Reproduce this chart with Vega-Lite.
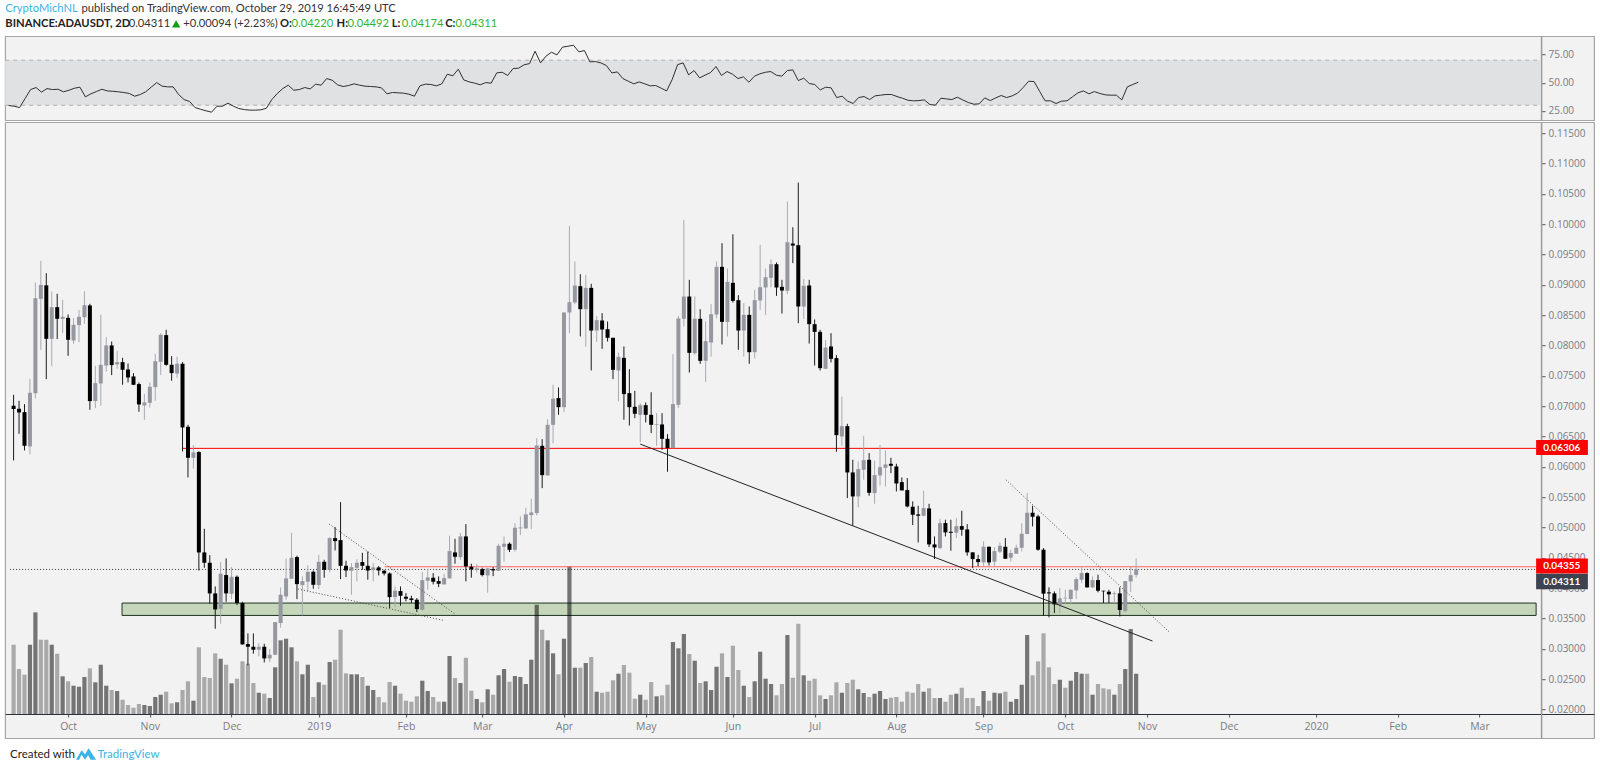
{
"$schema":"https://vega.github.io/schema/vega-lite/v6.json",
"background":"#ffffff",
"padding":{"left":3.1,"top":2.2,"right":0,"bottom":0},
"spacing":0,
"config":{"view":{"fill":"#f2f2f2","stroke":"#a6a6a6","strokeWidth":1.2},"font":"Lato","axis":{"labelFont":"Open Sans","labelColor":"#787b86","grid":false,"title":null}},
"datasets":{
"bars":[
{"bar":0,"dir":"down","open":0.07008,"high":0.07189,"low":0.06107,"close":0.06953,"vol":69.3,"vdir":"up","rsi":29.7},
{"bar":1,"dir":"down","open":0.06958,"high":0.0709,"low":0.06546,"close":0.06898,"vol":45,"vdir":"up","rsi":29.1},
{"bar":2,"dir":"down","open":0.06903,"high":0.07035,"low":0.06272,"close":0.06349,"vol":39.3,"vdir":"up","rsi":27.9},
{"bar":3,"dir":"up","open":0.06338,"high":0.07452,"low":0.06206,"close":0.07222,"vol":69.3,"vdir":"down","rsi":35.9},
{"bar":4,"dir":"up","open":0.07216,"high":0.09039,"low":0.07129,"close":0.08781,"vol":101.7,"vdir":"down","rsi":43.9},
{"bar":5,"dir":"up","open":0.0877,"high":0.09396,"low":0.0793,"close":0.08999,"vol":74.3,"vdir":"up","rsi":45.7},
{"bar":6,"dir":"down","open":0.08992,"high":0.09193,"low":0.07447,"close":0.08111,"vol":74.3,"vdir":"up","rsi":41.6},
{"bar":7,"dir":"up","open":0.08111,"high":0.08891,"low":0.07661,"close":0.08633,"vol":69.3,"vdir":"down","rsi":44.8},
{"bar":8,"dir":"down","open":0.08633,"high":0.08853,"low":0.08106,"close":0.08441,"vol":60.3,"vdir":"up","rsi":43.9},
{"bar":9,"dir":"up","open":0.08441,"high":0.08754,"low":0.08205,"close":0.08474,"vol":37.7,"vdir":"down","rsi":44.2},
{"bar":10,"dir":"down","open":0.08457,"high":0.08512,"low":0.07831,"close":0.08095,"vol":32.7,"vdir":"up","rsi":41.9},
{"bar":11,"dir":"up","open":0.08084,"high":0.08452,"low":0.08029,"close":0.08342,"vol":28.3,"vdir":"down","rsi":43.3},
{"bar":12,"dir":"up","open":0.08337,"high":0.08589,"low":0.08057,"close":0.08474,"vol":27.3,"vdir":"down","rsi":45.1},
{"bar":13,"dir":"up","open":0.08468,"high":0.08897,"low":0.08359,"close":0.08666,"vol":37,"vdir":"down","rsi":46},
{"bar":14,"dir":"down","open":0.08661,"high":0.08688,"low":0.06942,"close":0.07085,"vol":45.7,"vdir":"up","rsi":37.4},
{"bar":15,"dir":"up","open":0.07085,"high":0.07667,"low":0.06969,"close":0.07381,"vol":31.7,"vdir":"down","rsi":40.1},
{"bar":16,"dir":"up","open":0.07376,"high":0.08507,"low":0.07008,"close":0.07683,"vol":49.3,"vdir":"down","rsi":42.1},
{"bar":17,"dir":"up","open":0.07672,"high":0.08139,"low":0.07573,"close":0.08002,"vol":28.3,"vdir":"down","rsi":44.2},
{"bar":18,"dir":"down","open":0.08002,"high":0.08067,"low":0.07513,"close":0.07678,"vol":24,"vdir":"up","rsi":42.7},
{"bar":19,"dir":"up","open":0.07689,"high":0.07914,"low":0.07617,"close":0.07727,"vol":23,"vdir":"down","rsi":42.4},
{"bar":20,"dir":"down","open":0.07727,"high":0.07798,"low":0.07354,"close":0.07601,"vol":14.3,"vdir":"up","rsi":41.9},
{"bar":21,"dir":"down","open":0.07606,"high":0.07705,"low":0.07392,"close":0.07474,"vol":9,"vdir":"up","rsi":41.3},
{"bar":22,"dir":"down","open":0.07491,"high":0.07546,"low":0.07348,"close":0.07354,"vol":6.3,"vdir":"up","rsi":40.4},
{"bar":23,"dir":"down","open":0.07365,"high":0.07392,"low":0.06909,"close":0.0703,"vol":10,"vdir":"up","rsi":38},
{"bar":24,"dir":"up","open":0.07013,"high":0.07205,"low":0.06777,"close":0.07063,"vol":9,"vdir":"down","rsi":39.5},
{"bar":25,"dir":"up","open":0.07057,"high":0.07392,"low":0.0698,"close":0.07321,"vol":8,"vdir":"down","rsi":41.9},
{"bar":26,"dir":"up","open":0.07315,"high":0.07864,"low":0.0709,"close":0.07743,"vol":17,"vdir":"down","rsi":46},
{"bar":27,"dir":"up","open":0.07733,"high":0.08205,"low":0.07513,"close":0.08177,"vol":19.3,"vdir":"down","rsi":50.1},
{"bar":28,"dir":"down","open":0.08172,"high":0.0826,"low":0.07667,"close":0.07683,"vol":22.3,"vdir":"up","rsi":46.9},
{"bar":29,"dir":"down","open":0.07683,"high":0.07826,"low":0.0742,"close":0.07546,"vol":10.7,"vdir":"up","rsi":46.3},
{"bar":30,"dir":"up","open":0.0754,"high":0.07815,"low":0.07469,"close":0.077,"vol":11.7,"vdir":"down","rsi":46.3},
{"bar":31,"dir":"down","open":0.077,"high":0.07727,"low":0.06255,"close":0.06651,"vol":24,"vdir":"up","rsi":39.5},
{"bar":32,"dir":"down","open":0.06662,"high":0.06695,"low":0.05827,"close":0.06151,"vol":32.7,"vdir":"up","rsi":35},
{"bar":33,"dir":"up","open":0.06151,"high":0.0636,"low":0.05975,"close":0.06239,"vol":13.3,"vdir":"down","rsi":33.3},
{"bar":34,"dir":"down","open":0.06245,"high":0.0626,"low":0.04294,"close":0.04591,"vol":66.7,"vdir":"up","rsi":27.9},
{"bar":35,"dir":"down","open":0.04591,"high":0.04981,"low":0.04338,"close":0.04421,"vol":37,"vdir":"up","rsi":26.4},
{"bar":36,"dir":"down","open":0.04421,"high":0.04547,"low":0.03745,"close":0.03916,"vol":36,"vdir":"up","rsi":25},
{"bar":37,"dir":"down","open":0.03916,"high":0.04031,"low":0.03333,"close":0.03652,"vol":60.7,"vdir":"up","rsi":23.8},
{"bar":38,"dir":"up","open":0.03663,"high":0.04432,"low":0.03416,"close":0.0424,"vol":55.3,"vdir":"down","rsi":29.1},
{"bar":39,"dir":"down","open":0.04218,"high":0.04492,"low":0.03778,"close":0.03916,"vol":49.3,"vdir":"up","rsi":29.1},
{"bar":40,"dir":"up","open":0.0391,"high":0.04349,"low":0.03822,"close":0.0419,"vol":30.7,"vdir":"down","rsi":31.8},
{"bar":41,"dir":"down","open":0.0419,"high":0.04212,"low":0.03723,"close":0.03756,"vol":35.3,"vdir":"up","rsi":29.1},
{"bar":42,"dir":"down","open":0.03756,"high":0.03778,"low":0.03075,"close":0.03075,"vol":52.7,"vdir":"up","rsi":27},
{"bar":43,"dir":"down","open":0.03081,"high":0.03257,"low":0.02729,"close":0.03037,"vol":50.3,"vdir":"up","rsi":26.1},
{"bar":44,"dir":"down","open":0.03037,"high":0.03257,"low":0.02922,"close":0.02988,"vol":31,"vdir":"up","rsi":25.6},
{"bar":45,"dir":"up","open":0.02988,"high":0.03097,"low":0.02878,"close":0.03037,"vol":21.3,"vdir":"down","rsi":25.6},
{"bar":46,"dir":"down","open":0.03037,"high":0.03086,"low":0.02779,"close":0.02845,"vol":20.3,"vdir":"up","rsi":25.9},
{"bar":47,"dir":"up","open":0.02845,"high":0.02999,"low":0.02784,"close":0.02905,"vol":16,"vdir":"down","rsi":27.3},
{"bar":48,"dir":"up","open":0.02905,"high":0.03443,"low":0.02905,"close":0.03443,"vol":46.7,"vdir":"down","rsi":35},
{"bar":49,"dir":"up","open":0.03427,"high":0.04014,"low":0.0335,"close":0.03894,"vol":73.7,"vdir":"down","rsi":40.4},
{"bar":50,"dir":"up","open":0.03866,"high":0.04492,"low":0.03811,"close":0.04163,"vol":75.3,"vdir":"down","rsi":44.8},
{"bar":51,"dir":"up","open":0.04157,"high":0.04915,"low":0.04157,"close":0.04503,"vol":66.7,"vdir":"down","rsi":47.8},
{"bar":52,"dir":"down","open":0.04514,"high":0.04536,"low":0.03822,"close":0.04069,"vol":52.7,"vdir":"up","rsi":43.3},
{"bar":53,"dir":"up","open":0.04053,"high":0.04196,"low":0.03553,"close":0.04119,"vol":39.7,"vdir":"down","rsi":43.9},
{"bar":54,"dir":"up","open":0.04108,"high":0.04377,"low":0.03949,"close":0.04272,"vol":49.3,"vdir":"down","rsi":45.7},
{"bar":55,"dir":"down","open":0.04272,"high":0.04294,"low":0.03992,"close":0.04058,"vol":17,"vdir":"up","rsi":44.5},
{"bar":56,"dir":"up","open":0.04053,"high":0.04553,"low":0.03987,"close":0.04437,"vol":31.7,"vdir":"down","rsi":48.7},
{"bar":57,"dir":"down","open":0.04437,"high":0.0447,"low":0.04174,"close":0.04305,"vol":29.3,"vdir":"up","rsi":47.8},
{"bar":58,"dir":"up","open":0.04305,"high":0.04844,"low":0.04261,"close":0.04827,"vol":52,"vdir":"down","rsi":53.7},
{"bar":59,"dir":"down","open":0.04827,"high":0.05008,"low":0.04624,"close":0.04778,"vol":54.3,"vdir":"up","rsi":52.2},
{"bar":60,"dir":"down","open":0.04794,"high":0.0542,"low":0.04152,"close":0.04371,"vol":84.3,"vdir":"up","rsi":48.1},
{"bar":61,"dir":"down","open":0.04371,"high":0.04454,"low":0.04185,"close":0.04294,"vol":40.7,"vdir":"up","rsi":46.6},
{"bar":62,"dir":"up","open":0.04289,"high":0.04415,"low":0.03894,"close":0.04349,"vol":39.7,"vdir":"down","rsi":47.5},
{"bar":63,"dir":"up","open":0.04338,"high":0.04481,"low":0.04113,"close":0.04421,"vol":39.7,"vdir":"down","rsi":49},
{"bar":64,"dir":"down","open":0.04432,"high":0.04585,"low":0.04305,"close":0.04371,"vol":37,"vdir":"up","rsi":47.8},
{"bar":65,"dir":"down","open":0.04371,"high":0.04607,"low":0.04141,"close":0.04294,"vol":28.3,"vdir":"down","rsi":46.9},
{"bar":66,"dir":"up","open":0.043,"high":0.04415,"low":0.04113,"close":0.04344,"vol":24,"vdir":"down","rsi":46.6},
{"bar":67,"dir":"down","open":0.04344,"high":0.04366,"low":0.04212,"close":0.04294,"vol":17,"vdir":"up","rsi":46.3},
{"bar":68,"dir":"down","open":0.04289,"high":0.04305,"low":0.04212,"close":0.04245,"vol":11.7,"vdir":"up","rsi":45.4},
{"bar":69,"dir":"down","open":0.04245,"high":0.04261,"low":0.03674,"close":0.03855,"vol":32,"vdir":"up","rsi":40.1},
{"bar":70,"dir":"up","open":0.03855,"high":0.04031,"low":0.0369,"close":0.03959,"vol":28.3,"vdir":"down","rsi":41.3},
{"bar":71,"dir":"down","open":0.03954,"high":0.04031,"low":0.03712,"close":0.03877,"vol":20.3,"vdir":"up","rsi":41},
{"bar":72,"dir":"down","open":0.03861,"high":0.03921,"low":0.03784,"close":0.03828,"vol":13.3,"vdir":"up","rsi":40.7},
{"bar":73,"dir":"down","open":0.03833,"high":0.03877,"low":0.03757,"close":0.03806,"vol":12.3,"vdir":"up","rsi":39.8},
{"bar":74,"dir":"down","open":0.03812,"high":0.03839,"low":0.03608,"close":0.03658,"vol":17.7,"vdir":"up","rsi":38},
{"bar":75,"dir":"up","open":0.03647,"high":0.04267,"low":0.03636,"close":0.04135,"vol":33.3,"vdir":"down","rsi":47.2},
{"bar":76,"dir":"up","open":0.04124,"high":0.04322,"low":0.03976,"close":0.04179,"vol":23,"vdir":"down","rsi":48.7},
{"bar":77,"dir":"down","open":0.04174,"high":0.04251,"low":0.04064,"close":0.04108,"vol":17,"vdir":"up","rsi":48.4},
{"bar":78,"dir":"down","open":0.04119,"high":0.04196,"low":0.0402,"close":0.04075,"vol":12.3,"vdir":"up","rsi":47.2},
{"bar":79,"dir":"up","open":0.04064,"high":0.0424,"low":0.04064,"close":0.04168,"vol":12.3,"vdir":"down","rsi":49},
{"bar":80,"dir":"up","open":0.04163,"high":0.04866,"low":0.04163,"close":0.04613,"vol":58,"vdir":"down","rsi":57.6},
{"bar":81,"dir":"down","open":0.04591,"high":0.04816,"low":0.04405,"close":0.0452,"vol":36,"vdir":"up","rsi":56.1},
{"bar":82,"dir":"up","open":0.04514,"high":0.0491,"low":0.0447,"close":0.04855,"vol":31,"vdir":"down","rsi":62},
{"bar":83,"dir":"down","open":0.04855,"high":0.05058,"low":0.04114,"close":0.04361,"vol":56.3,"vdir":"up","rsi":52.5},
{"bar":84,"dir":"down","open":0.04355,"high":0.04405,"low":0.04174,"close":0.04311,"vol":23.3,"vdir":"up","rsi":50.7},
{"bar":85,"dir":"up","open":0.04306,"high":0.04399,"low":0.04262,"close":0.04328,"vol":15,"vdir":"down","rsi":49.6},
{"bar":86,"dir":"down","open":0.04317,"high":0.04339,"low":0.04196,"close":0.04218,"vol":11.7,"vdir":"up","rsi":48.1},
{"bar":87,"dir":"up","open":0.04212,"high":0.04339,"low":0.03927,"close":0.04328,"vol":24.7,"vdir":"down","rsi":50.1},
{"bar":88,"dir":"down","open":0.04317,"high":0.0435,"low":0.04201,"close":0.04295,"vol":19.3,"vdir":"up","rsi":49.6},
{"bar":89,"dir":"up","open":0.04289,"high":0.04734,"low":0.04289,"close":0.04701,"vol":38.7,"vdir":"down","rsi":58.7},
{"bar":90,"dir":"up","open":0.04685,"high":0.04855,"low":0.04437,"close":0.04734,"vol":45,"vdir":"down","rsi":59.3},
{"bar":91,"dir":"down","open":0.04734,"high":0.04756,"low":0.04597,"close":0.04635,"vol":32.3,"vdir":"up","rsi":56.4},
{"bar":92,"dir":"up","open":0.04635,"high":0.05074,"low":0.04602,"close":0.04998,"vol":38,"vdir":"down","rsi":62.6},
{"bar":93,"dir":"up","open":0.04987,"high":0.05184,"low":0.04877,"close":0.05003,"vol":37,"vdir":"down","rsi":62.9},
{"bar":94,"dir":"up","open":0.04987,"high":0.05327,"low":0.04976,"close":0.05217,"vol":30,"vdir":"down","rsi":65.9},
{"bar":95,"dir":"up","open":0.05206,"high":0.05475,"low":0.04976,"close":0.0525,"vol":54.3,"vdir":"down","rsi":67},
{"bar":96,"dir":"up","open":0.05239,"high":0.06475,"low":0.052,"close":0.06354,"vol":109.3,"vdir":"down","rsi":78},
{"bar":97,"dir":"down","open":0.06348,"high":0.06458,"low":0.05651,"close":0.05865,"vol":84.3,"vdir":"up","rsi":67.6},
{"bar":98,"dir":"up","open":0.0586,"high":0.06788,"low":0.0586,"close":0.06694,"vol":73.7,"vdir":"down","rsi":73.6},
{"bar":99,"dir":"up","open":0.06694,"high":0.07353,"low":0.06392,"close":0.07123,"vol":60.7,"vdir":"down","rsi":77.1},
{"bar":100,"dir":"down","open":0.07134,"high":0.07309,"low":0.06859,"close":0.06985,"vol":39.7,"vdir":"up","rsi":74.7},
{"bar":101,"dir":"up","open":0.06985,"high":0.08545,"low":0.06903,"close":0.08545,"vol":75.3,"vdir":"down","rsi":81.6},
{"bar":102,"dir":"up","open":0.08545,"high":0.09972,"low":0.08204,"close":0.08715,"vol":147.7,"vdir":"down","rsi":82.4},
{"bar":103,"dir":"up","open":0.0871,"high":0.09385,"low":0.08682,"close":0.0899,"vol":46.3,"vdir":"down","rsi":83.3},
{"bar":104,"dir":"down","open":0.08979,"high":0.09176,"low":0.0815,"close":0.086,"vol":46.3,"vdir":"up","rsi":77.4},
{"bar":105,"dir":"up","open":0.086,"high":0.09165,"low":0.07985,"close":0.08951,"vol":51,"vdir":"down","rsi":78.6},
{"bar":106,"dir":"down","open":0.08951,"high":0.09017,"low":0.07589,"close":0.08248,"vol":57,"vdir":"up","rsi":68.5},
{"bar":107,"dir":"up","open":0.08248,"high":0.0849,"low":0.08062,"close":0.08419,"vol":22.3,"vdir":"down","rsi":68.8},
{"bar":108,"dir":"down","open":0.08413,"high":0.08534,"low":0.07946,"close":0.08265,"vol":21.3,"vdir":"up","rsi":67.6},
{"bar":109,"dir":"down","open":0.0827,"high":0.08397,"low":0.08067,"close":0.08128,"vol":22.3,"vdir":"up","rsi":65.3},
{"bar":110,"dir":"down","open":0.08128,"high":0.08128,"low":0.07447,"close":0.076,"vol":33.7,"vdir":"up","rsi":58.7},
{"bar":111,"dir":"up","open":0.07589,"high":0.07886,"low":0.07079,"close":0.07815,"vol":40.3,"vdir":"down","rsi":59.6},
{"bar":112,"dir":"down","open":0.07798,"high":0.07985,"low":0.06777,"close":0.072,"vol":49,"vdir":"up","rsi":53.7},
{"bar":113,"dir":"down","open":0.07216,"high":0.07611,"low":0.06683,"close":0.06985,"vol":41.3,"vdir":"up","rsi":51.3},
{"bar":114,"dir":"down","open":0.06991,"high":0.07254,"low":0.06804,"close":0.06876,"vol":15.3,"vdir":"up","rsi":49},
{"bar":115,"dir":"up","open":0.06859,"high":0.07051,"low":0.06409,"close":0.07018,"vol":19.3,"vdir":"down","rsi":50.7},
{"bar":116,"dir":"down","open":0.07018,"high":0.07062,"low":0.06733,"close":0.06859,"vol":14.3,"vdir":"up","rsi":49},
{"bar":117,"dir":"down","open":0.06859,"high":0.07232,"low":0.06557,"close":0.06694,"vol":32,"vdir":"up","rsi":47.2},
{"bar":118,"dir":"up","open":0.06694,"high":0.06887,"low":0.06348,"close":0.06705,"vol":17.7,"vdir":"down","rsi":47.5},
{"bar":119,"dir":"down","open":0.067,"high":0.06887,"low":0.06283,"close":0.06464,"vol":18.7,"vdir":"up","rsi":45.1},
{"bar":120,"dir":"down","open":0.06464,"high":0.06541,"low":0.0592,"close":0.0631,"vol":29.3,"vdir":"up","rsi":42.7},
{"bar":121,"dir":"up","open":0.0631,"high":0.07858,"low":0.0631,"close":0.07035,"vol":72,"vdir":"down","rsi":52.8},
{"bar":122,"dir":"up","open":0.07024,"high":0.0849,"low":0.06969,"close":0.08446,"vol":65.7,"vdir":"down","rsi":66.1},
{"bar":123,"dir":"up","open":0.08441,"high":0.10071,"low":0.08314,"close":0.08808,"vol":80,"vdir":"down","rsi":67.6},
{"bar":124,"dir":"down","open":0.08808,"high":0.09083,"low":0.07556,"close":0.0788,"vol":60,"vdir":"up","rsi":57},
{"bar":125,"dir":"up","open":0.07875,"high":0.08808,"low":0.07848,"close":0.08441,"vol":53.3,"vdir":"down","rsi":60.8},
{"bar":126,"dir":"down","open":0.08441,"high":0.086,"low":0.07699,"close":0.07749,"vol":31,"vdir":"up","rsi":54.3},
{"bar":127,"dir":"up","open":0.07749,"high":0.08397,"low":0.07403,"close":0.08073,"vol":32.7,"vdir":"down","rsi":56.7},
{"bar":128,"dir":"up","open":0.08051,"high":0.08682,"low":0.0782,"close":0.08517,"vol":24,"vdir":"down","rsi":59},
{"bar":129,"dir":"up","open":0.08512,"high":0.09385,"low":0.08451,"close":0.09297,"vol":47.3,"vdir":"down","rsi":64.4},
{"bar":130,"dir":"down","open":0.09297,"high":0.09687,"low":0.08018,"close":0.08391,"vol":60.7,"vdir":"up","rsi":56.4},
{"bar":131,"dir":"up","open":0.08391,"high":0.0927,"low":0.0815,"close":0.0905,"vol":37,"vdir":"down","rsi":59.9},
{"bar":132,"dir":"down","open":0.09034,"high":0.09835,"low":0.0871,"close":0.08737,"vol":68.3,"vdir":"up","rsi":57.6},
{"bar":133,"dir":"down","open":0.08748,"high":0.0883,"low":0.0793,"close":0.08248,"vol":44,"vdir":"up","rsi":53.7},
{"bar":134,"dir":"up","open":0.08248,"high":0.08699,"low":0.0782,"close":0.08506,"vol":28.3,"vdir":"down","rsi":55.2},
{"bar":135,"dir":"down","open":0.08506,"high":0.08644,"low":0.07699,"close":0.07891,"vol":17,"vdir":"up","rsi":50.4},
{"bar":136,"dir":"up","open":0.07891,"high":0.08918,"low":0.07787,"close":0.08748,"vol":32.7,"vdir":"down","rsi":55.8},
{"bar":137,"dir":"up","open":0.08743,"high":0.0966,"low":0.08589,"close":0.08962,"vol":62.3,"vdir":"down","rsi":57.9},
{"bar":138,"dir":"up","open":0.08957,"high":0.0927,"low":0.08506,"close":0.09127,"vol":35.3,"vdir":"down","rsi":59.3},
{"bar":139,"dir":"up","open":0.09116,"high":0.09423,"low":0.08962,"close":0.09341,"vol":30,"vdir":"down","rsi":59.9},
{"bar":140,"dir":"down","open":0.09341,"high":0.09369,"low":0.08819,"close":0.08957,"vol":18.7,"vdir":"up","rsi":56.7},
{"bar":141,"dir":"down","open":0.08968,"high":0.09083,"low":0.08528,"close":0.08907,"vol":30,"vdir":"up","rsi":55.8},
{"bar":142,"dir":"up","open":0.08902,"high":0.10373,"low":0.08847,"close":0.09703,"vol":79,"vdir":"down","rsi":60.8},
{"bar":143,"dir":"down","open":0.09681,"high":0.0995,"low":0.09358,"close":0.09648,"vol":36.3,"vdir":"up","rsi":61.4},
{"bar":144,"dir":"down","open":0.09654,"high":0.10686,"low":0.08369,"close":0.08644,"vol":90.3,"vdir":"up","rsi":51.9},
{"bar":145,"dir":"up","open":0.08644,"high":0.09099,"low":0.0844,"close":0.08984,"vol":38.7,"vdir":"down","rsi":54},
{"bar":146,"dir":"down","open":0.0899,"high":0.09083,"low":0.08034,"close":0.08353,"vol":33.3,"vdir":"up","rsi":49.3},
{"bar":147,"dir":"down","open":0.08353,"high":0.0843,"low":0.07672,"close":0.08226,"vol":35.3,"vdir":"up","rsi":48.4},
{"bar":148,"dir":"down","open":0.08226,"high":0.08259,"low":0.07589,"close":0.07628,"vol":18.7,"vdir":"up","rsi":43.6},
{"bar":149,"dir":"up","open":0.07617,"high":0.08089,"low":0.07617,"close":0.07968,"vol":15,"vdir":"down","rsi":46},
{"bar":150,"dir":"down","open":0.07985,"high":0.08204,"low":0.07721,"close":0.07782,"vol":18.7,"vdir":"up","rsi":45.4},
{"bar":151,"dir":"down","open":0.07793,"high":0.07842,"low":0.0625,"close":0.06524,"vol":31.7,"vdir":"up","rsi":36.8},
{"bar":152,"dir":"up","open":0.06502,"high":0.07161,"low":0.06348,"close":0.06672,"vol":21.3,"vdir":"down","rsi":38},
{"bar":153,"dir":"down","open":0.06672,"high":0.06711,"low":0.05487,"close":0.05909,"vol":31,"vdir":"up","rsi":33.6},
{"bar":154,"dir":"down","open":0.05909,"high":0.06118,"low":0.05031,"close":0.05514,"vol":34.3,"vdir":"up","rsi":31.5},
{"bar":155,"dir":"up","open":0.05514,"high":0.0609,"low":0.05333,"close":0.05964,"vol":24.7,"vdir":"down","rsi":36.8},
{"bar":156,"dir":"up","open":0.05953,"high":0.06513,"low":0.05789,"close":0.06113,"vol":21,"vdir":"down","rsi":37.7},
{"bar":157,"dir":"down","open":0.06118,"high":0.06228,"low":0.05525,"close":0.05574,"vol":17,"vdir":"up","rsi":35},
{"bar":158,"dir":"up","open":0.05569,"high":0.06107,"low":0.05393,"close":0.05865,"vol":20.3,"vdir":"down","rsi":38.3},
{"bar":159,"dir":"up","open":0.0586,"high":0.06365,"low":0.05695,"close":0.05997,"vol":23,"vdir":"down","rsi":38.9},
{"bar":160,"dir":"up","open":0.05986,"high":0.06272,"low":0.05679,"close":0.06041,"vol":15,"vdir":"down","rsi":39.5},
{"bar":161,"dir":"down","open":0.06052,"high":0.06151,"low":0.05898,"close":0.06019,"vol":16.3,"vdir":"up","rsi":39.5},
{"bar":162,"dir":"down","open":0.06008,"high":0.06052,"low":0.05596,"close":0.05728,"vol":17,"vdir":"up","rsi":37.7},
{"bar":163,"dir":"down","open":0.0575,"high":0.05827,"low":0.05613,"close":0.05613,"vol":12.3,"vdir":"up","rsi":36.2},
{"bar":164,"dir":"down","open":0.05618,"high":0.05816,"low":0.05333,"close":0.05349,"vol":22.3,"vdir":"up","rsi":34.4},
{"bar":165,"dir":"down","open":0.05344,"high":0.05432,"low":0.05042,"close":0.05212,"vol":21.3,"vdir":"up","rsi":33.9},
{"bar":166,"dir":"down","open":0.05218,"high":0.0536,"low":0.04756,"close":0.05196,"vol":30,"vdir":"up","rsi":34.1},
{"bar":167,"dir":"up","open":0.05196,"high":0.05607,"low":0.05185,"close":0.05322,"vol":22.3,"vdir":"down","rsi":34.7},
{"bar":168,"dir":"down","open":0.05316,"high":0.05393,"low":0.04679,"close":0.04723,"vol":25.7,"vdir":"up","rsi":30.6},
{"bar":169,"dir":"down","open":0.04723,"high":0.04855,"low":0.04482,"close":0.04674,"vol":16,"vdir":"up","rsi":30},
{"bar":170,"dir":"up","open":0.04663,"high":0.05146,"low":0.04647,"close":0.05075,"vol":16,"vdir":"down","rsi":36.2},
{"bar":171,"dir":"down","open":0.05075,"high":0.0513,"low":0.04855,"close":0.04921,"vol":12.3,"vdir":"up","rsi":35.6},
{"bar":172,"dir":"down","open":0.04932,"high":0.0513,"low":0.04619,"close":0.04915,"vol":19.3,"vdir":"up","rsi":35},
{"bar":173,"dir":"up","open":0.04915,"high":0.05157,"low":0.04828,"close":0.05025,"vol":20.3,"vdir":"down","rsi":37.1},
{"bar":174,"dir":"down","open":0.05025,"high":0.05278,"low":0.04866,"close":0.04965,"vol":26.3,"vdir":"up","rsi":34.7},
{"bar":175,"dir":"down","open":0.0497,"high":0.05058,"low":0.04537,"close":0.04592,"vol":16,"vdir":"up","rsi":32.4},
{"bar":176,"dir":"down","open":0.04592,"high":0.04592,"low":0.04333,"close":0.04482,"vol":16,"vdir":"up","rsi":30.9},
{"bar":177,"dir":"down","open":0.04482,"high":0.04553,"low":0.04361,"close":0.04432,"vol":8,"vdir":"up","rsi":31.2},
{"bar":178,"dir":"up","open":0.04427,"high":0.04773,"low":0.04361,"close":0.04685,"vol":23,"vdir":"down","rsi":36.5},
{"bar":179,"dir":"down","open":0.04685,"high":0.04685,"low":0.04376,"close":0.04427,"vol":13.3,"vdir":"up","rsi":34.1},
{"bar":180,"dir":"up","open":0.04438,"high":0.04679,"low":0.04361,"close":0.04614,"vol":21.3,"vdir":"down","rsi":36.5},
{"bar":181,"dir":"up","open":0.04603,"high":0.04756,"low":0.04581,"close":0.04701,"vol":20.7,"vdir":"down","rsi":38.6},
{"bar":182,"dir":"down","open":0.04685,"high":0.04828,"low":0.04487,"close":0.04487,"vol":22.3,"vdir":"up","rsi":36.8},
{"bar":183,"dir":"up","open":0.04504,"high":0.04635,"low":0.04443,"close":0.04581,"vol":12.3,"vdir":"down","rsi":38.3},
{"bar":184,"dir":"up","open":0.0457,"high":0.04718,"low":0.0457,"close":0.04668,"vol":15,"vdir":"down","rsi":40.7},
{"bar":185,"dir":"up","open":0.04668,"high":0.05075,"low":0.04608,"close":0.04899,"vol":29.3,"vdir":"down","rsi":45.7},
{"bar":186,"dir":"up","open":0.04894,"high":0.05569,"low":0.04894,"close":0.05245,"vol":79,"vdir":"down","rsi":51.3},
{"bar":187,"dir":"down","open":0.05245,"high":0.0536,"low":0.0502,"close":0.05179,"vol":38.7,"vdir":"up","rsi":51},
{"bar":188,"dir":"down","open":0.05185,"high":0.05212,"low":0.04619,"close":0.04636,"vol":52.7,"vdir":"up","rsi":42.4},
{"bar":189,"dir":"down","open":0.04636,"high":0.04663,"low":0.03554,"close":0.03911,"vol":80.7,"vdir":"up","rsi":33.9},
{"bar":190,"dir":"down","open":0.03933,"high":0.04015,"low":0.03521,"close":0.03916,"vol":46.7,"vdir":"up","rsi":33.9},
{"bar":191,"dir":"down","open":0.03916,"high":0.03949,"low":0.03592,"close":0.03735,"vol":30,"vdir":"up","rsi":31.5},
{"bar":192,"dir":"up","open":0.03724,"high":0.04004,"low":0.03592,"close":0.03834,"vol":34.3,"vdir":"down","rsi":33.6},
{"bar":193,"dir":"up","open":0.03834,"high":0.03977,"low":0.03746,"close":0.03845,"vol":26.3,"vdir":"up","rsi":33.9},
{"bar":194,"dir":"up","open":0.03823,"high":0.03977,"low":0.03746,"close":0.03977,"vol":33.3,"vdir":"down","rsi":37.4},
{"bar":195,"dir":"up","open":0.03966,"high":0.04185,"low":0.03823,"close":0.04152,"vol":42,"vdir":"down","rsi":41},
{"bar":196,"dir":"up","open":0.04141,"high":0.04361,"low":0.04086,"close":0.04251,"vol":40.3,"vdir":"down","rsi":42.7},
{"bar":197,"dir":"down","open":0.04251,"high":0.04262,"low":0.04015,"close":0.04015,"vol":40.3,"vdir":"up","rsi":40.1},
{"bar":198,"dir":"up","open":0.04015,"high":0.04196,"low":0.04004,"close":0.04136,"vol":19.3,"vdir":"down","rsi":42.1},
{"bar":199,"dir":"down","open":0.04136,"high":0.04224,"low":0.03933,"close":0.0396,"vol":30,"vdir":"up","rsi":40.4},
{"bar":200,"dir":"down","open":0.0396,"high":0.0396,"low":0.03757,"close":0.0395,"vol":25.7,"vdir":"up","rsi":39.2},
{"bar":201,"dir":"down","open":0.03944,"high":0.03977,"low":0.03757,"close":0.039,"vol":24.7,"vdir":"up","rsi":38.9},
{"bar":202,"dir":"up","open":0.03905,"high":0.03949,"low":0.03757,"close":0.03916,"vol":19.3,"vdir":"down","rsi":38.9},
{"bar":203,"dir":"down","open":0.03916,"high":0.04015,"low":0.03537,"close":0.03642,"vol":30,"vdir":"up","rsi":34.7},
{"bar":204,"dir":"up","open":0.03625,"high":0.04119,"low":0.03603,"close":0.04119,"vol":45,"vdir":"down","rsi":46.3},
{"bar":205,"dir":"up","open":0.04114,"high":0.04361,"low":0.03938,"close":0.04217,"vol":85,"vdir":"down","rsi":48.4},
{"bar":206,"dir":"up","open":0.0422,"high":0.04492,"low":0.04174,"close":0.04311,"vol":40.3,"vdir":"down","rsi":50.4}
],
"band":[{"bar":-0.64,"bar2":279.4,"top":70,"bottom":30}],
"bandEdges":[{"bar":-0.64,"bar2":279.4,"rsi":70},{"bar":-0.64,"bar2":279.4,"rsi":30}],
"headPlain":[
{"bar":13.3,"rsi":115.6,"text":"published on TradingView.com, October 29, 2019 16:45:49 UTC","kind":"plain"},
{"bar":21.89,"rsi":102.3,"text":"0.04311","kind":"plain"},
{"bar":31.84,"rsi":102.3,"text":"+0.00094 (+2.23%)","kind":"plain"},
{"bar":-0.6,"rsi":115.6,"text":"CryptoMichNL","kind":"link"},
{"bar":51.6,"rsi":102.3,"text":"0.04220","kind":"value"},
{"bar":61.8,"rsi":102.3,"text":"0.04492","kind":"value"},
{"bar":71.7,"rsi":102.3,"text":"0.04174","kind":"value"},
{"bar":81.5,"rsi":102.3,"text":"0.04311","kind":"value"}
],
"headBold":[
{"bar":-0.6,"rsi":102.3,"text":"BINANCE:ADAUSDT, 2D"},
{"bar":49.5,"rsi":102.3,"text":"O:"},
{"bar":59.8,"rsi":102.3,"text":"H:"},
{"bar":69.85,"rsi":102.3,"text":"L:"},
{"bar":79.6,"rsi":102.3,"text":"C:"}
],
"arrow":[{"bar":30.55,"rsi":102.3}],
"zone":[{"bar":19.9,"bar2":279.4,"top":0.03757,"bottom":0.03553}],
"levels":[{"bar":31,"bar2":279.4,"price":0.06306,"level":"main"},{"bar":68.1,"bar2":279.4,"price":0.04355,"level":"near"}],
"last":[{"bar":-0.64,"bar2":279.4,"price":0.04311}],
"trend":[{"bar":115,"price":0.06376},{"bar":209,"price":0.03131}],
"wedges":[
{"name":"upper","bar":57.9,"price":0.05059},{"name":"upper","bar":81,"price":0.03576},
{"name":"lower","bar":52.2,"price":0.03988},{"name":"lower","bar":78.9,"price":0.03471},
{"name":"recent","bar":182.1,"price":0.05788},{"name":"recent","bar":212.1,"price":0.03279}
],
"boxes":[
{"bar":279.4,"bar2":288.9,"top":0.06442,"bottom":0.06197,"level":"main"},
{"bar":279.4,"bar2":288.9,"top":0.04492,"bottom":0.04245,"level":"main"},
{"bar":279.4,"bar2":288.9,"top":0.0424,"bottom":0.03985,"level":"last"}
],
"boxLabels":[
{"bar":280.7,"mid":0.06316,"text":"0.06306"},
{"bar":280.7,"mid":0.04372,"text":"0.04355"},
{"bar":280.7,"mid":0.04112,"text":"0.04311"}
],
"foot":[
{"bar":-0.64,"price":0.01246,"text":"Created with","kind":"plain"},
{"bar":15.4,"price":0.01246,"text":"TradingView","kind":"link"}
],
"logo":[{"bar":13.3,"price":0.01275}]
},
"vconcat":[
{
"width":1589,"height":84,
"encoding":{"x":{"field":"bar","type":"quantitative","scale":{"domain":[-0.64,289.12],"nice":false,"zero":false},"axis":null}},
"layer":[
{"data":{"name":"band"},"mark":{"type":"rect","color":"#e0e1e3"},"encoding":{"x2":{"field":"bar2"},"y":{"field":"top","type":"quantitative","scale":{"domain":[16.67,91.33],"nice":false,"zero":false},"axis":{"orient":"right","offset":-53,"values":[25,50,75],"format":".2f","domainColor":"#9a9a9a","domainWidth":1.5,"tickColor":"#555555","tickSize":4,"labelPadding":3,"labelFontSize":10}},"y2":{"field":"bottom"}}},
{"data":{"name":"bandEdges"},"mark":{"type":"rule","color":"#b0b0b0","strokeDash":[4,4],"strokeWidth":1},"encoding":{"x2":{"field":"bar2"},"y":{"field":"rsi","type":"quantitative"}}},
{"data":{"name":"bars"},"mark":{"type":"line","color":"#2e2e2e","strokeWidth":1,"interpolate":"linear"},"encoding":{"y":{"field":"rsi","type":"quantitative"}}},
{"data":{"name":"headPlain"},"mark":{"type":"text","align":"left","baseline":"middle","fontSize":11.2},"encoding":{"y":{"field":"rsi","type":"quantitative"},"text":{"field":"text"},"color":{"field":"kind","type":"nominal","legend":null,"scale":{"domain":["plain","link","value"],"range":["#333333","#3bb3e4","#35b235"]}}}},
{"data":{"name":"headBold"},"mark":{"type":"text","align":"left","baseline":"middle","fontSize":11.2,"fontWeight":700,"color":"#222222"},"encoding":{"y":{"field":"rsi","type":"quantitative"},"text":{"field":"text"}}},
{"data":{"name":"arrow"},"mark":{"type":"point","shape":"triangle-up","filled":true,"size":70,"color":"#0f9d12","opacity":1},"encoding":{"y":{"field":"rsi","type":"quantitative"}}}
]
},
{
"width":1589,"height":616,
"encoding":{"x":{"field":"bar","type":"quantitative","scale":{"domain":[-0.64,289.12],"nice":false,"zero":false},"axis":{"orient":"bottom","offset":-24.2,"values":[10,25,40,56,72,86,101,116,132,147,162,178,193,208,223,239,254,269],"labelExpr":"{'10':'Oct','25':'Nov','40':'Dec','56':'2019','72':'Feb','86':'Mar','101':'Apr','116':'May','132':'Jun','147':'Jul','162':'Aug','178':'Sep','193':'Oct','208':'Nov','223':'Dec','239':'2020','254':'Feb','269':'Mar'}[datum.value]","domainColor":"#2a2e39","domainWidth":1,"tickColor":"#555555","tickSize":3,"labelFontSize":10.5,"labelPadding":5,"labelOverlap":false,"labelFlush":false,"labelBound":false}}},
"resolve":{"scale":{"y":"independent","color":"independent"},"axis":{"y":"independent"}},
"layer":[
{"data":{"name":"zone"},"mark":{"type":"rect","color":"#c5d6bb","stroke":"#1c3320","strokeWidth":1},"encoding":{"x2":{"field":"bar2"},"y":{"field":"top","type":"quantitative","scale":{"domain":[0.0153,0.11681],"nice":false,"zero":false},"axis":null},"y2":{"field":"bottom"}}},
{"data":{"name":"bars"},"mark":{"type":"bar","size":4.2,"orient":"vertical"},"encoding":{"y":{"field":"vol","type":"quantitative","scale":{"domain":[-24.2,592],"nice":false,"zero":false},"axis":null},"color":{"field":"vdir","type":"nominal","legend":null,"scale":{"domain":["up","down"],"range":["rgba(0,0,0,0.3)","rgba(0,0,0,0.52)"]}}}},
{
"encoding":{"y":{"field":"price","type":"quantitative","scale":{"domain":[0.0153,0.11681],"nice":false,"zero":false},"axis":{"orient":"right","offset":-53,"values":[0.02,0.025,0.03,0.035,0.04,0.045,0.05,0.055,0.06,0.065,0.07,0.075,0.08,0.085,0.09,0.095,0.1,0.105,0.11,0.115],"format":".5f","domainColor":"#9a9a9a","domainWidth":1.5,"tickColor":"#555555","tickSize":4,"labelPadding":3,"labelFontSize":10,"labelOverlap":false,"labelBound":false,"labelFlush":false}}},
"resolve":{"scale":{"color":"independent"}},
"layer":[
{"data":{"name":"levels"},"mark":{"type":"rule","strokeWidth":1},"encoding":{"x2":{"field":"bar2"},"color":{"field":"level","type":"nominal","legend":null,"scale":{"domain":["main","near"],"range":["#ff0000","#ff6060"]}}}},
{"data":{"name":"last"},"mark":{"type":"rule","color":"#333333","strokeWidth":1,"strokeDash":[1,2]},"encoding":{"x2":{"field":"bar2"}}},
{"data":{"name":"bars"},"mark":{"type":"rule","strokeWidth":1},"encoding":{"y":{"field":"low","type":"quantitative"},"y2":{"field":"high"},"color":{"field":"dir","type":"nominal","legend":null,"scale":{"domain":["up","down"],"range":["#a9abb3","#1a1a1a"]}}}},
{"data":{"name":"bars"},"mark":{"type":"bar","size":4,"orient":"vertical"},"encoding":{"y":{"field":"open","type":"quantitative"},"y2":{"field":"close"},"color":{"field":"dir","type":"nominal","legend":null,"scale":{"domain":["up","down"],"range":["#9598a1","#000000"]}}}},
{"data":{"name":"trend"},"mark":{"type":"line","color":"#222222","strokeWidth":1},"encoding":{}},
{"data":{"name":"wedges"},"mark":{"type":"line","color":"#444444","strokeWidth":1,"strokeDash":[1,2]},"encoding":{"detail":{"field":"name"}}},
{"data":{"name":"boxes"},"mark":{"type":"rect"},"encoding":{"x2":{"field":"bar2"},"y":{"field":"top","type":"quantitative"},"y2":{"field":"bottom"},"color":{"field":"level","type":"nominal","legend":null,"scale":{"domain":["main","last"],"range":["#ff0000","#3d4150"]}}}},
{"data":{"name":"boxLabels"},"mark":{"type":"text","align":"left","baseline":"middle","fontSize":10,"fontWeight":700,"color":"#ffffff"},"encoding":{"y":{"field":"mid","type":"quantitative"},"text":{"field":"text"}}},
{"data":{"name":"foot"},"mark":{"type":"text","align":"left","baseline":"middle","fontSize":11.5},"encoding":{"text":{"field":"text"},"color":{"field":"kind","type":"nominal","legend":null,"scale":{"domain":["plain","link"],"range":["#222222","#3bb3e4"]}}}},
{"data":{"name":"logo"},"mark":{"type":"point","filled":true,"size":400,"color":"#3bb3e4","opacity":1,"shape":"M-1,0.6 L-0.45,-0.35 L-0.1,0.05 L0.25,-0.55 L1,0.6 L0.45,0.6 L0.2,0.15 L-0.1,0.6 L-0.45,0.1 L-0.7,0.6 Z"},"encoding":{}}
]
}
]
}
]
}
